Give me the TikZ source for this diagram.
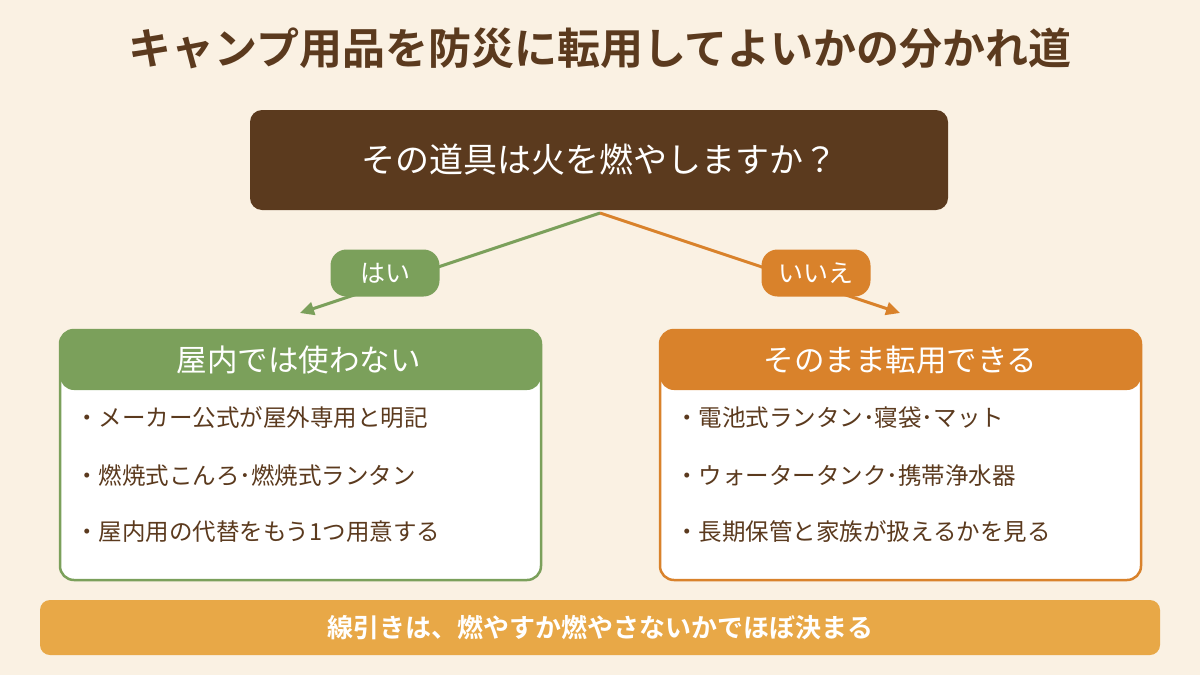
\documentclass[tikz,border=0pt]{standalone}
\usepackage{fontspec}
\setmainfont{Noto Sans CJK JP}[BoldFont={Noto Sans CJK JP Bold}]
\usetikzlibrary{arrows.meta}
\definecolor{bg}{HTML}{FAF1E3}
\definecolor{brown}{HTML}{5B3A1E}
\definecolor{gr}{HTML}{7BA05B}
\definecolor{og}{HTML}{D9822B}
\definecolor{yb}{HTML}{E8A847}
\tikzset{
  pill/.style={fill=#1, rounded corners=16pt, minimum width=109pt, minimum height=47pt, inner sep=0pt, text=white, font=\fontsize{25}{30}\selectfont},
  card/.style={draw=#1, line width=2.5pt, fill=white, rounded corners=14pt, minimum width=481pt, minimum height=250pt, inner sep=0pt,
    path picture={\fill[#1] (path picture bounding box.north west) rectangle ([yshift=-60pt]path picture bounding box.north east);}},
  headtxt/.style={text=white, font=\fontsize{30.5}{36}\selectfont},
  item/.style={anchor=west, text=brown, inner sep=0pt, font=\fontsize{23.5}{28}\selectfont},
  conn/.style={line width=3pt, -{Triangle[length=14pt,width=13pt]}},
}
\begin{document}
\begin{tikzpicture}[x=1pt,y=-1pt]
\fill[bg] (0,0) rectangle (1200,675);
\useasboundingbox (0,0) rectangle (1200,675);
\node[text=brown, font=\fontsize{43}{50}\selectfont\bfseries] (title) at (600,48) {キャンプ用品を防災に転用してよいかの分かれ道};
\node[fill=brown, rounded corners=12pt, minimum width=698pt, minimum height=100pt, inner sep=0pt, text=white, font=\fontsize{34}{40}\selectfont] (q) at (599,160) {その道具は火を燃やしますか？};
\coordinate (apex) at (600,213);
\coordinate (ltip) at (300,313);
\coordinate (rtip) at (900,313);
\draw[conn, gr] (apex) -- (ltip);
\draw[conn, og] (apex) -- (rtip);
\node[pill=gr] (yes) at (385,273) {はい};
\node[pill=og] (no) at (816,273) {いいえ};
\node[card=gr] (lcard) at (300.5,455) {};
\node[card=og] (rcard) at (900.5,455) {};
\node[headtxt] (lhead) at (298.5,360) {屋内では使わない};
\node[headtxt] (rhead) at (900.5,360) {そのまま転用できる};
\node[item] (l1) at (75,418) {・メーカー公式が屋外専用と明記};
\node[item] (l2) at (75,476) {・燃焼式こんろ･燃焼式ランタン};
\node[item] (l3) at (75,532) {・屋内用の代替をもう1つ用意する};
\node[item] (r1) at (675,418) {・電池式ランタン･寝袋･マット};
\node[item] (r2) at (675,476) {・ウォータータンク･携帯浄水器};
\node[item] (r3) at (675,532) {・長期保管と家族が扱えるかを見る};
\node[fill=yb, rounded corners=10pt, minimum width=1120pt, minimum height=55pt, inner sep=0pt, text=white, font=\fontsize{26}{32}\selectfont\bfseries] (sum) at (600,627.5) {線引きは、燃やすか燃やさないかでほぼ決まる};
\end{tikzpicture}
\end{document}
